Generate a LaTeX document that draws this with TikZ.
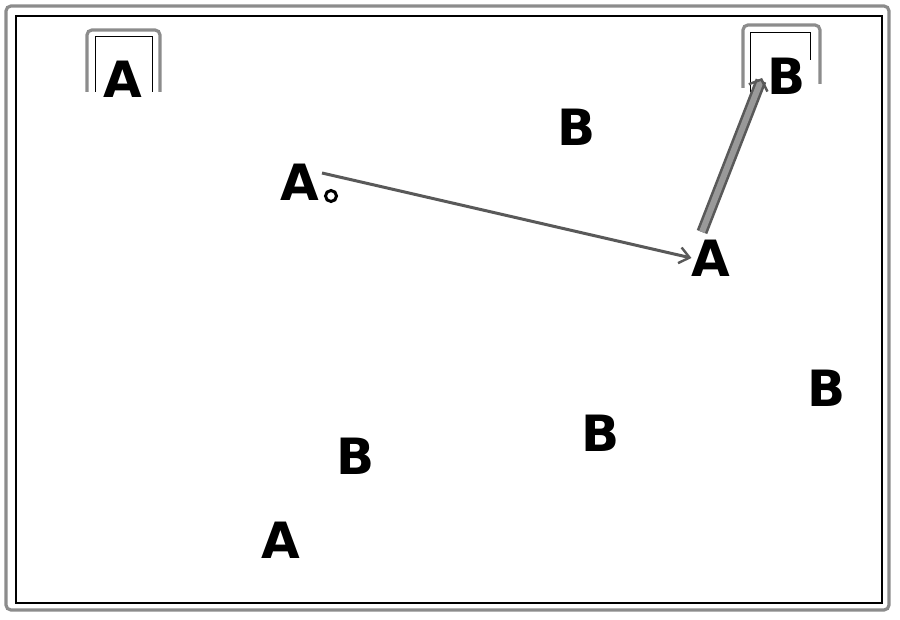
\documentclass[tikz,border=0pt]{standalone}
\usepackage{fontspec}
\setmainfont{DejaVu Sans}
\usetikzlibrary{arrows.meta}
\begin{document}
\begin{tikzpicture}[x=1pt,y=-1pt,
  lbl/.style={font=\fontsize{50}{50}\selectfont\bfseries, inner sep=0pt, text=black},
  framegray/.style={draw=black!45, line width=3.2pt, rounded corners=5pt},
  frameblack/.style={draw=black, line width=1.3pt},
  thinarrow/.style={draw=black!65, line width=3pt, -{Straight Barb[length=10pt,width=16pt,line width=2.4pt]}},
  thickarrow/.style={draw=black!65, double=black!40, double distance=6pt, line width=2.6pt, -{Straight Barb[length=9pt,width=20pt,line width=2.4pt]}},
]
\useasboundingbox (0,0) rectangle (900,620);
\fill[white] (0,0) rectangle (900,620);
% frame
\draw[framegray] (6,6) rectangle (889,610);
\draw[frameblack] (16,16) rectangle (882,603);
% brackets
\draw[framegray] (87,92) -- (87,30) -- (160,30) -- (160,92);
\draw[frameblack, line width=1pt] (95,92) -- (95,37) -- (152,37) -- (152,92);
\draw[framegray] (743,88) -- (743,25) -- (820,25) -- (820,84);
\draw[frameblack, line width=1pt] (750,92) -- (750,33) -- (810,33) -- (810,60);
% letters
\node[lbl] (a1) at (123,79) {A};
\node[lbl] (b1) at (787,76) {B};
\node[lbl] (b2) at (577,127) {B};
\node[lbl] (a2) at (300,182) {A};
\node[lbl] (a3) at (711,258) {A};
\node[lbl] (b3) at (827,388) {B};
\node[lbl] (b4) at (601,433) {B};
\node[lbl] (b5) at (356,456) {B};
\node[lbl] (a4) at (281,540) {A};
% small circle
\node[circle, draw=black, line width=3pt, minimum size=11pt, inner sep=0pt, fill=white] (c) at (331,196) {};
% arrows
\coordinate (s1) at (322,173);
\draw[thinarrow] (s1) -- (a3.west);
\coordinate (s2) at (702,232);
\coordinate (e2) at (762,78);
\draw[thickarrow] (s2) -- (e2);
\end{tikzpicture}
\end{document}
